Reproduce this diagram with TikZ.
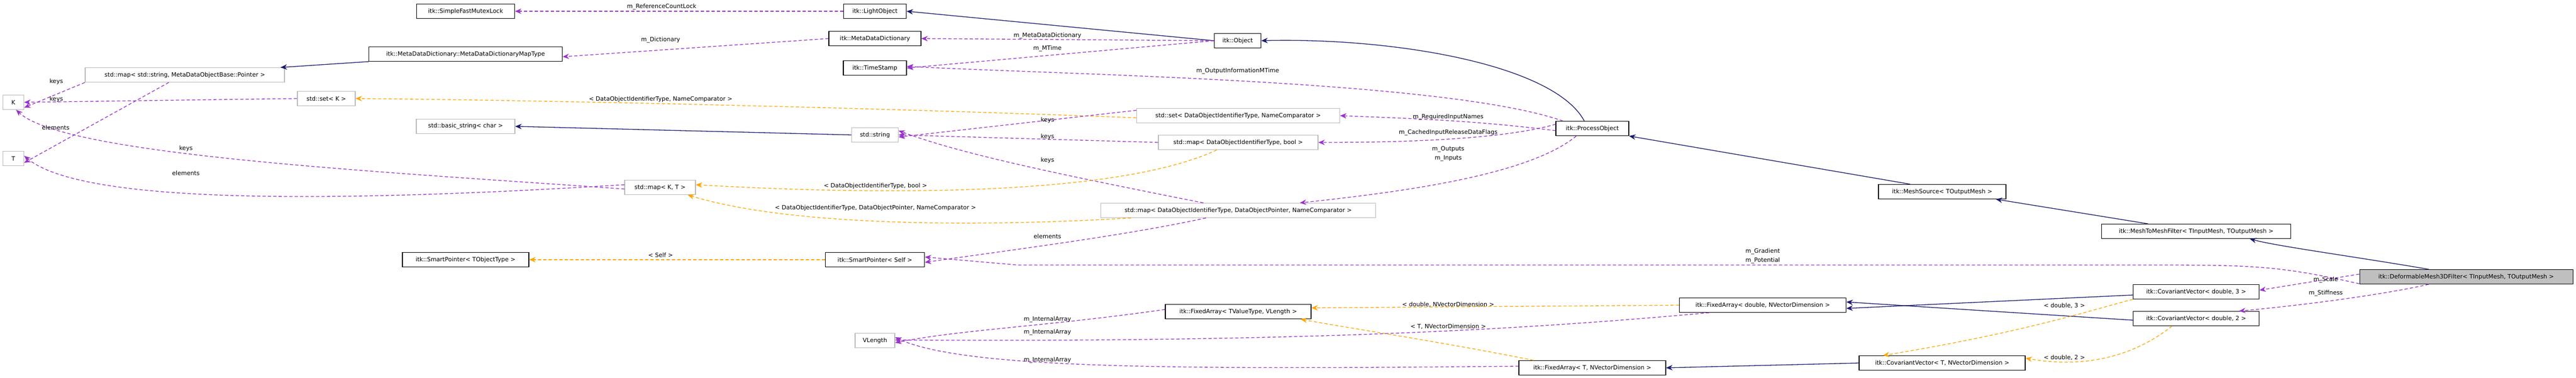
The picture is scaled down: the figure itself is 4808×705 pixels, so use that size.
\documentclass[tikz,border=0pt]{standalone}
\usepackage{fontspec}
\setmainfont{DejaVu Sans}
\usetikzlibrary{arrows.meta}
\definecolor{inhc}{HTML}{191970}
\definecolor{usec}{HTML}{9A32CD}
\definecolor{tplc}{HTML}{FFA500}
\definecolor{gbox}{HTML}{BFBFBF}
\begin{document}
\begin{tikzpicture}[x=1pt,y=-1pt,
  font=\fontsize{11}{13}\selectfont,
  box/.style={draw=black, line width=1.1pt, minimum height=27pt, inner sep=0pt, anchor=center},
  sbox/.style={draw=gray!55, line width=1.1pt, minimum height=27pt, inner sep=0pt, anchor=center},
  lab/.style={inner sep=0pt, align=center, font=\fontsize{11}{17}\selectfont},
  tip/.style={-{Stealth[length=12pt,width=10pt]}},
  inh/.style={tip, draw=inhc, line width=1.3pt},
  use/.style={tip, draw=usec, line width=1.3pt, dash pattern=on 6pt off 4pt},
  tpl/.style={tip, draw=tplc, line width=1.3pt, dash pattern=on 6pt off 4pt}]
\useasboundingbox (0,0) rectangle (4808,705);
% nodes
\node[box, minimum width=183] (mutex) at (869,21) {itk::SimpleFastMutexLock};
\node[box, minimum width=361] (maptype) at (869,101) {itk::MetaDataDictionary::MetaDataDictionaryMapType};
\node[sbox, minimum width=372] (mapstr) at (345,140) {std::map< std::string, MetaDataObjectBase::Pointer >};
\node[sbox, minimum width=39] (K) at (25,191) {K};
\node[sbox, minimum width=39] (T) at (25,296) {T};
\node[sbox, minimum width=108] (setK) at (609,184) {std::set< K >};
\node[sbox, minimum width=184] (bstr) at (869,236) {std::basic\_string< char >};
\node[box, minimum width=236] (spT) at (869,485) {itk::SmartPointer< TObjectType >};
\node[box, minimum width=117] (light) at (1633,21) {itk::LightObject};
\node[box, minimum width=172] (mdd) at (1633,72) {itk::MetaDataDictionary};
\node[box, minimum width=118] (ts) at (1633,127) {itk::TimeStamp};
\node[sbox, minimum width=87] (str) at (1633,252) {std::string};
\node[sbox, minimum width=132] (mapKT) at (1232,350) {std::map< K, T >};
\node[box, minimum width=185] (spS) at (1633,485) {itk::SmartPointer< Self >};
\node[sbox, minimum width=74] (vlen) at (1633,636) {VLength};
\node[box, minimum width=87] (obj) at (2310,76) {itk::Object};
\node[sbox, minimum width=379] (setD) at (2311,216) {std::set< DataObjectIdentifierType, NameComparator >};
\node[sbox, minimum width=298] (mapB) at (2311,266) {std::map< DataObjectIdentifierType, bool >};
\node[sbox, minimum width=513] (mapP) at (2311,393) {std::map< DataObjectIdentifierType, DataObjectPointer, NameComparator >};
\node[box, minimum width=272] (faV) at (2311,582) {itk::FixedArray< TValueType, VLength >};
\node[box, minimum width=136] (proc) at (2972,240) {itk::ProcessObject};
\node[box, minimum width=311] (faD) at (3290,570) {itk::FixedArray< double, NVectorDimension >};
\node[box, minimum width=274] (faT) at (2972,687) {itk::FixedArray< T, NVectorDimension >};
\node[box, minimum width=238] (msrc) at (3625,358) {itk::MeshSource< TOutputMesh >};
\node[box, minimum width=310] (cvT) at (3625,678) {itk::CovariantVector< T, NVectorDimension >};
\node[box, minimum width=353] (m2m) at (4099,432) {itk::MeshToMeshFilter< TInputMesh, TOutputMesh >};
\node[box, minimum width=235] (cv3) at (4099,545) {itk::CovariantVector< double, 3 >};
\node[box, minimum width=235] (cv2) at (4099,595) {itk::CovariantVector< double, 2 >};
\node[box, fill=gbox, minimum width=398] (dfm) at (4603,517) {itk::DeformableMesh3DFilter< TInputMesh, TOutputMesh >};
% edges
\draw[use] (light.west) -- (mutex.east);
\draw[inh] (obj.west) -- (light.east);
\draw[use] (obj.west) -- (mdd.east);
\draw[use] (obj.west) -- (ts.east);
\draw[use] ([xshift=-55]proc.north) .. controls (2700,150) and (2000,140) .. ([yshift=3]ts.east);
\draw[inh] ([xshift=-15]proc.north) .. controls (2900,120) and (2600,70) .. (obj.east);
\draw[use] (mdd.west) -- ([yshift=-5]maptype.east);
\draw[inh] (maptype.south west) -- ([xshift=-8]mapstr.north east);
\draw[use] (mapstr.south west) -- ([yshift=-10]K.east);
\draw[use] ([xshift=-30]mapstr.south) -- ([yshift=-8]T.east);
\draw[use] (setK.west) -- (K.east);
\draw[tpl] ([yshift=-4]setD.west) .. controls (1600,200) and (1000,187) .. (setK.east);
\draw[use] ([yshift=10]setD.west) -- ([yshift=-4]str.east);
\draw[use] (mapB.west) -- (str.east);
\draw[use] ([xshift=-65]mapP.north) .. controls (2000,330) and (1800,290) .. ([yshift=8]str.east);
\draw[inh] (str.west) -- (bstr.east);
\draw[use] ([yshift=-4]proc.west) .. controls (2750,225) and (2650,222) .. (setD.east);
\draw[use] ([yshift=8]proc.west) .. controls (2800,262) and (2600,266) .. (mapB.east);
\draw[use] ([xshift=-30]proc.south) .. controls (2850,330) and (2600,360) .. ([xshift=115]mapP.north);
\draw[tpl] ([xshift=-40]mapB.south) .. controls (2100,360) and (1700,368) .. ([yshift=5]mapKT.east);
\draw[tpl] ([xshift=-200]mapP.south) .. controls (1900,420) and (1500,430) .. ([xshift=-15]mapKT.south east);
\draw[use] ([yshift=-3]mapKT.west) .. controls (700,320) and (120,290) .. ([xshift=5]K.south);
\draw[use] ([yshift=5]mapKT.west) .. controls (600,380) and (150,380) .. ([yshift=5]T.east);
\draw[use] ([xshift=-60]mapP.south) .. controls (2100,440) and (1900,465) .. ([yshift=-5]spS.east);
\draw[tpl] (spS.west) -- (spT.east);
\draw[use] ([yshift=-13]dfm.west) .. controls (4250,495) and (4200,495) .. (4000,495) -- (1900,495) -- ([yshift=5]spS.east);
\draw[inh] ([xshift=-60]msrc.north) -- (proc.south east);
\draw[inh] ([xshift=-90]m2m.north) -- ([xshift=100]msrc.south);
\draw[inh] ([xshift=-70]dfm.north) .. controls (4400,480) and (4250,460) .. ([xshift=100]m2m.south);
\draw[use] ([yshift=5]dfm.west) -- ([yshift=3]cv3.east);
\draw[use] ([xshift=-70]dfm.south) .. controls (4450,550) and (4300,570) .. ([xshift=80]cv2.north);
\draw[inh] ([yshift=-6]cv3.west) -- ([yshift=-6]faD.east);
\draw[inh] ([yshift=-3]cv2.west) -- ([yshift=6]faD.east);
\draw[tpl] (cv3.south west) .. controls (3900,580) and (3780,620) .. ([xshift=45]cvT.north west);
\draw[tpl] ([xshift=-45]cv2.south) .. controls (3990,660) and (3900,690) .. ([yshift=9]cvT.east);
\draw[inh] (cvT.west) -- (faT.east);
\draw[tpl] (faD.west) -- ([yshift=7]faV.east);
\draw[tpl] ([xshift=-110]faT.north) .. controls (2700,640) and (2500,610) .. ([xshift=-20]faV.south east);
\draw[use] ([yshift=4]faV.west) .. controls (1950,610) and (1800,615) .. ([yshift=-4]vlen.east);
\draw[use] ([xshift=-100]faD.south) .. controls (2900,610) and (2500,640) .. ([yshift=1]vlen.east);
\draw[use] ([yshift=3]faT.west) .. controls (2200,690) and (1800,690) .. ([yshift=6]vlen.east);
% labels
\node[lab] at (1235,13) {m\_ReferenceCountLock};
\node[lab] at (1955,67) {m\_MetaDataDictionary};
\node[lab] at (1955,91) {m\_MTime};
\node[lab] at (2310,133) {m\_OutputInformationMTime};
\node[lab] at (1233,75) {m\_Dictionary};
\node[lab] at (105,152) {keys};
\node[lab] at (105,185) {keys};
\node[lab] at (104,238) {elements};
\node[lab] at (347,277) {keys};
\node[lab] at (347,323) {elements};
\node[lab] at (1233,185) {< DataObjectIdentifierType, NameComparator >};
\node[lab] at (1955,224) {keys};
\node[lab] at (1955,255) {keys};
\node[lab] at (1955,299) {keys};
\node[lab] at (2703,219) {m\_RequiredInputNames};
\node[lab] at (2703,248) {m\_CachedInputReleaseDataFlags};
\node[lab] at (2703,287) {m\_Outputs\\m\_Inputs};
\node[lab] at (1634,347) {< DataObjectIdentifierType, bool >};
\node[lab] at (1634,388) {< DataObjectIdentifierType, DataObjectPointer, NameComparator >};
\node[lab] at (1955,441) {elements};
\node[lab] at (1233,476) {< Self >};
\node[lab] at (3290,478) {m\_Gradient\\m\_Potential};
\node[lab] at (4341,523) {m\_Scale};
\node[lab] at (4341,548) {m\_Stiffness};
\node[lab] at (3853,571) {< double, 3 >};
\node[lab] at (3853,668) {< double, 2 >};
\node[lab] at (2703,569) {< double, NVectorDimension >};
\node[lab] at (2703,610) {< T, NVectorDimension >};
\node[lab] at (1955,597) {m\_InternalArray};
\node[lab] at (1955,621) {m\_InternalArray};
\node[lab] at (1955,673) {m\_InternalArray};
\end{tikzpicture}
\end{document}
